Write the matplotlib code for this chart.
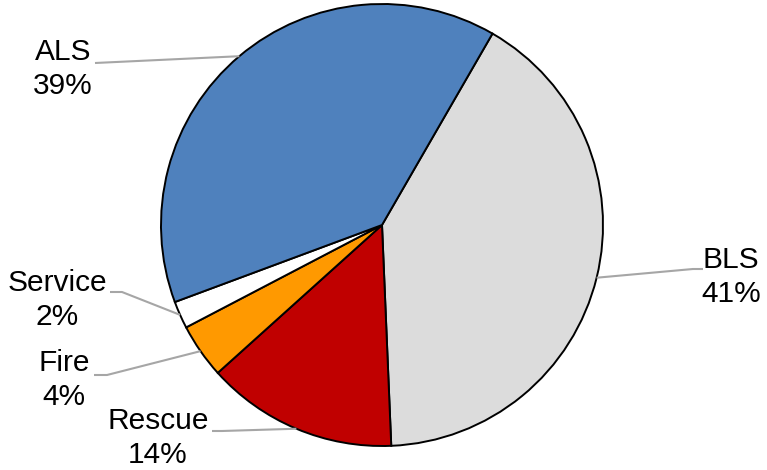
import numpy as np
import matplotlib
matplotlib.use("Agg")
import matplotlib.pyplot as plt

# Call types and their share of responses
categories = ["BLS", "Rescue", "Fire", "Service", "ALS"]
shares = [41, 14, 4, 2, 39]
colors = ["#DCDCDC", "#C00000", "#FF9900", "#FFFFFF", "#4F81BD"]

W, H = 767, 470
fig = plt.figure(figsize=(W / 100, H / 100), dpi=100)
ax = fig.add_axes([0, 0, 1, 1])

cx, cy, r = 382, H - 225, 221
start = 60  # first wedge begins 30 degrees clockwise from 12 o'clock

wedges, _ = ax.pie(shares, colors=colors, startangle=start, counterclock=False,
                   radius=r, center=(cx, cy), frame=True,
                   wedgeprops=dict(edgecolor="black", linewidth=1.4))
ax.set_xlim(0, W)
ax.set_ylim(0, H)
ax.set_aspect("equal")
ax.axis("off")

# label block centres and leader-line elbows (image pixel coordinates)
label_pos = {
    "BLS": (731, 277),
    "Rescue": (158, 438),
    "Fire": (64, 380),
    "Service": (57, 300),
    "ALS": (63, 69),
}
elbows = {
    "BLS": [(703, 269), (693, 269)],
    "Rescue": [(212, 431), (222, 431)],
    "Fire": [(94, 375), (107, 375)],
    "Service": [(110, 292), (122, 292)],
    "ALS": [(95, 63)],
}

for w, name, val in zip(wedges, categories, shares):
    mid = np.deg2rad((w.theta1 + w.theta2) / 2)
    ex, ey = cx + r * np.cos(mid), cy + r * np.sin(mid)
    pts = [(x, H - y) for x, y in elbows[name]] + [(ex, ey)]
    xs, ys = zip(*pts)
    ax.plot(xs, ys, color="#A6A6A6", lw=1.5, solid_capstyle="butt", zorder=3)
    lx, ly = label_pos[name]
    ax.text(lx, H - ly, f"{name}\n{val}%", ha="center", va="center",
            multialignment="center", fontsize=21.5, family="Liberation Sans",
            linespacing=1.3, color="black")

fig.savefig("out.png", dpi=100)
